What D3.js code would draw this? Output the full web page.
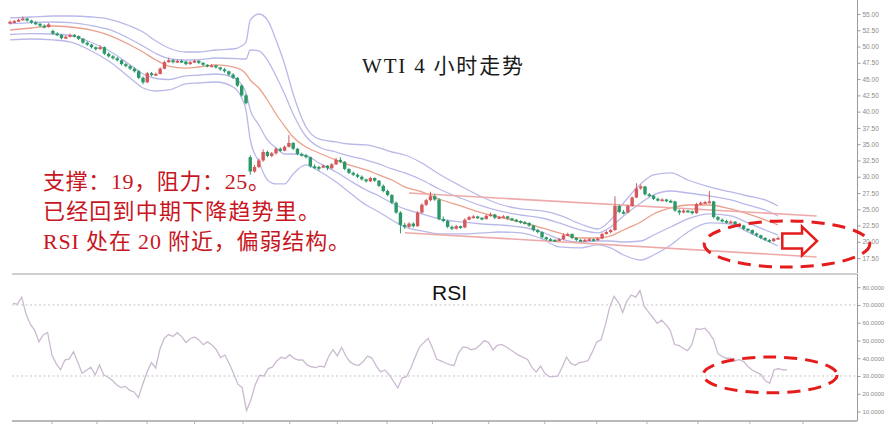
<!DOCTYPE html>
<html><head><meta charset="utf-8">
<script src="https://cdn.jsdelivr.net/npm/d3@7"></script>
<style>html,body{margin:0;padding:0;background:#fff;overflow:hidden;} svg{display:block;}</style>
</head><body>
<svg id="chart" width="893" height="428"></svg>
<script>
// ---------- DATA ----------
const openP = [53.6,53.8,53.9,54.1,54.3,54.0,53.7,53.5,53.2,53.0,
52.4,52.0,51.8,51.3,51.5,51.8,51.6,51.2,50.6,50.3,
49.9,49.6,49.9,48.9,48.5,48.2,47.9,47.3,47.0,46.6,
46.2,45.2,44.5,45.9,45.6,45.8,46.6,47.6,47.9,47.6,
47.8,47.7,47.3,47.6,47.8,47.5,47.2,47.0,47.1,46.8,
46.5,46.2,45.7,45.2,44.0,42.5,33.0,30.8,31.5,32.5,
33.8,33.2,33.6,34.3,34.0,34.6,35.2,34.3,33.5,33.3,
33.0,31.6,31.5,31.4,31.7,31.3,31.9,32.6,32.3,31.2,
30.6,30.3,30.0,29.6,29.3,29.8,29.4,28.6,27.8,27.2,
26.0,24.5,22.6,22.3,22.8,22.4,24.5,25.7,26.4,27.0,
26.5,23.5,23.2,22.3,22.0,22.4,22.2,23.4,23.8,23.9,
23.7,23.5,24.0,24.2,23.7,23.8,23.9,23.6,23.4,23.2,
23.0,22.9,22.5,21.8,21.5,20.7,20.4,20.3,20.2,20.4,
21.0,21.2,20.6,20.3,20.2,20.3,20.4,20.3,20.5,21.2,
21.5,21.8,25.5,24.6,24.5,25.5,26.8,28.2,28.5,27.3,
27.1,26.6,26.4,26.5,26.3,26.2,24.8,24.5,24.8,24.7,
24.4,25.8,26.0,26.1,26.2,23.8,23.4,23.2,23.0,23.1,
22.7,22.5,22.0,21.8,21.3,21.0,20.6,20.3,20.1,20.5];
const highP = [54.0,54.1,54.3,54.6,54.4,54.1,53.9,53.6,53.4,53.6,
52.6,52.2,51.9,51.7,52.0,51.9,51.7,51.3,50.8,50.4,
50.0,50.2,50.0,49.1,48.7,48.4,48.0,47.5,47.2,46.8,
46.4,45.4,46.1,46.1,46.0,46.8,47.8,48.3,48.1,48.0,
48.0,47.8,47.8,48.0,47.9,47.6,47.3,47.3,47.2,46.9,
46.7,46.3,45.9,45.3,44.2,42.7,33.3,31.8,32.8,34.2,
34.0,33.8,34.5,34.5,34.8,36.4,35.3,34.4,33.7,33.5,
33.1,31.9,31.7,31.9,31.8,32.1,32.9,33.0,32.4,31.3,
30.8,30.5,30.2,29.7,30.0,29.9,29.5,28.8,28.0,27.3,
26.2,24.7,22.9,23.0,23.0,24.7,25.9,26.6,27.7,27.3,
26.7,23.9,23.4,22.5,22.6,22.5,23.6,24.0,24.1,24.0,
23.8,24.2,24.5,24.3,24.0,24.1,24.0,23.7,23.5,23.3,
23.2,23.0,22.6,22.0,21.6,20.8,20.6,20.4,20.6,21.3,
21.4,21.3,20.7,20.4,20.5,20.6,20.5,20.7,21.4,21.7,
22.0,27.0,25.7,24.9,25.7,27.0,29.0,28.8,28.6,27.5,
27.2,26.8,26.7,26.6,26.5,26.3,25.0,25.0,24.9,24.8,
26.0,26.2,26.3,27.8,26.3,24.0,23.6,23.4,23.3,23.2,
22.8,22.6,22.1,21.9,21.4,21.1,20.7,20.4,20.6,20.8];
const lowP = [53.4,53.6,53.8,54.0,53.8,53.5,53.3,53.0,52.8,52.9,
51.8,51.6,51.1,51.2,51.4,51.4,51.0,50.4,50.1,49.7,
49.4,49.5,48.7,48.3,48.0,47.7,47.1,46.8,46.4,46.0,
45.0,44.2,44.4,45.4,45.5,45.7,46.5,47.5,47.4,47.5,
47.5,47.1,47.2,47.5,47.3,47.0,46.8,46.9,46.6,46.3,
46.0,45.5,45.0,43.8,42.3,41.1,30.3,30.6,31.3,32.3,
33.0,33.0,33.4,33.8,33.9,34.5,34.1,33.3,33.1,32.8,
31.4,31.2,30.9,31.3,31.0,31.2,31.8,32.1,31.0,30.4,
30.1,29.8,29.4,29.1,29.2,29.2,28.4,27.6,27.0,25.8,
24.3,21.3,22.0,22.1,22.2,22.3,24.3,25.5,26.2,26.3,
23.3,23.0,22.1,21.8,21.9,22.0,22.1,23.3,23.6,23.5,
23.3,23.4,23.9,23.5,23.6,23.7,23.4,23.2,23.0,22.8,
22.7,22.3,21.6,21.3,20.5,20.2,20.1,20.0,20.1,20.3,
20.9,20.4,20.1,20.0,20.1,20.2,20.1,20.2,20.4,21.1,
21.3,21.7,24.4,24.2,24.4,25.4,26.7,28.0,27.1,26.9,
26.4,26.2,26.3,26.1,26.0,24.6,24.1,24.4,24.5,24.2,
24.3,25.6,25.8,25.9,23.6,23.2,23.0,22.8,22.9,22.5,
22.3,21.8,21.6,21.1,20.8,20.4,20.1,19.9,20.0,20.4];
const closeP = [53.8,53.9,54.1,54.3,54.0,53.7,53.5,53.2,53.0,53.4,
52.0,51.8,51.3,51.5,51.8,51.6,51.2,50.6,50.3,49.9,
49.6,49.9,48.9,48.5,48.2,47.9,47.3,47.0,46.6,46.2,
45.2,44.5,45.9,45.6,45.8,46.6,47.6,47.9,47.6,47.8,
47.7,47.3,47.6,47.8,47.5,47.2,47.0,47.1,46.8,46.5,
46.2,45.7,45.2,44.0,42.5,41.3,30.8,31.5,32.5,33.8,
33.2,33.6,34.3,34.0,34.6,35.2,34.3,33.5,33.3,33.0,
31.6,31.5,31.4,31.7,31.3,31.9,32.6,32.3,31.2,30.6,
30.3,30.0,29.6,29.3,29.8,29.4,28.6,27.8,27.2,26.0,
24.5,22.6,22.3,22.8,22.4,24.5,25.7,26.4,27.0,26.5,
23.5,23.2,22.3,22.0,22.4,22.2,23.4,23.8,23.9,23.7,
23.5,24.0,24.2,23.7,23.8,23.9,23.6,23.4,23.2,23.0,
22.9,22.5,21.8,21.5,20.7,20.4,20.3,20.2,20.4,21.0,
21.2,20.6,20.3,20.2,20.3,20.4,20.3,20.5,21.2,21.5,
21.8,25.5,24.6,24.5,25.5,26.8,28.2,28.5,27.3,27.1,
26.6,26.4,26.5,26.3,26.2,24.8,24.5,24.8,24.7,24.4,
25.8,26.0,26.1,26.2,23.8,23.4,23.2,23.0,23.1,22.7,
22.5,22.0,21.8,21.3,21.0,20.6,20.3,20.1,20.5,20.6];

// Bollinger-type envelopes and moving average, read at sample candles
const bandIdx = [0,5,10,14,19,23,28,31,34,37,41,44,48,52,54,55,56,58,60,62,64,66,69,72,76,79,83,86,89,92,96,100,105,110,114,119,124,128,133,137,140,143,147,150,154,158,163,168,172,176,179];
const bandUpper2 = [54.39,54.54,54.69,54.69,54.54,54.23,53.16,52.23,50.85,49.78,49.16,49.16,49.47,49.62,50.08,50.70,54.08,55.00,54.08,51.01,47.32,42.71,37.64,35.80,35.34,35.03,34.88,34.42,33.80,33.34,32.11,30.42,28.58,26.89,25.81,25.05,24.74,24.12,22.74,21.97,23.36,25.97,28.89,30.27,30.58,29.50,28.43,27.66,27.04,26.43,25.51];
const bandUpper1 = [53.54,53.69,53.77,53.69,53.23,52.62,51.16,50.08,48.93,48.16,47.93,47.97,48.24,48.16,48.09,48.09,49.47,49.32,47.93,45.48,42.71,39.64,36.18,34.57,33.80,33.19,32.57,31.96,31.19,30.58,29.50,28.12,26.73,25.51,24.74,24.12,23.66,22.90,21.82,21.36,22.28,23.97,25.97,27.20,27.81,27.50,27.04,26.43,25.66,24.89,23.97];
const movingAvg = [52.54,52.85,53.16,53.00,52.54,51.77,50.24,49.16,47.93,47.01,46.70,46.86,47.17,46.86,46.40,45.78,44.86,43.63,41.79,39.64,37.79,36.11,34.57,33.65,32.57,31.81,31.04,30.27,29.50,28.43,27.66,26.58,25.51,24.43,23.82,23.05,22.13,21.36,20.59,20.59,20.90,21.82,23.05,24.28,25.20,25.66,25.66,25.05,24.28,23.36,22.59];
const bandLower1 = [51.85,52.00,51.93,51.70,50.62,49.39,47.17,45.78,45.09,44.94,45.48,45.59,45.78,45.25,44.09,42.87,40.25,37.95,35.65,34.42,33.49,33.49,33.26,32.11,30.73,29.50,27.96,27.04,25.97,25.05,24.28,23.51,23.05,22.74,22.59,22.28,21.51,20.44,19.97,20.13,20.13,19.97,20.13,21.05,22.28,23.51,24.28,23.97,22.90,21.82,21.05];
const bandLower2 = [51.01,51.16,51.01,50.70,49.32,47.78,45.17,43.63,43.17,43.33,44.25,44.40,44.55,43.79,42.10,40.25,35.65,32.27,29.50,28.89,28.89,30.42,31.81,30.88,29.19,27.66,25.66,24.59,23.36,22.28,21.67,21.21,21.21,21.36,21.51,21.36,20.44,19.21,19.06,19.52,19.06,17.98,17.21,17.98,19.52,21.51,22.90,22.74,21.51,20.28,19.36];

// Channel trend lines (candle index, price)
const trendUpperIdx = [93, 188];
const trendUpperVal = [27.50, 23.97];
const trendLowerIdx = [92, 188];
const trendLowerVal = [21.40, 17.67];

// RSI, one value per candle
const rsiValues = [70.9,70.4,74.4,65.0,59.2,55.9,49.3,53.1,54.5,41.8,
37.0,33.5,39.0,39.6,43.7,37.6,31.5,33.2,34.9,30.6,
36.2,30.5,29.3,27.4,24.9,23.5,24.1,21.9,21.0,17.8,
25.3,32.1,37.6,34.5,45.3,51.3,53.3,52.3,54.4,52.2,
48.9,51.0,52.0,50.3,47.6,49.2,47.5,44.8,40.4,41.8,
37.0,31.5,25.4,23.4,10.5,16.5,24.9,30.4,30.0,34.0,
35.1,38.5,40.5,39.8,42.0,39.9,39.0,39.0,36.2,35.2,
34.7,35.5,35.1,41.0,44.8,41.3,46.1,41.1,37.8,36.4,
36.0,38.1,41.2,40.1,35.7,32.3,33.4,30.6,26.9,23.3,
29.0,29.6,34.5,40.5,46.3,48.8,51.2,45.9,39.4,38.5,
37.3,36.4,35.9,42.8,46.2,46.1,44.8,45.4,47.5,49.9,
48.8,44.6,47.3,47.8,46.5,44.8,43.2,41.6,40.5,39.3,
34.8,32.2,35.6,31.5,29.6,29.6,30.0,34.9,40.7,37.1,
36.0,37.5,37.9,38.7,43.7,49.2,50.4,58.8,68.8,74.8,
71.5,65.8,72.4,75.6,74.4,78.1,69.2,66.0,62.8,59.6,
61.4,58.9,55.7,47.7,47.2,45.6,44.3,47.6,56.6,56.3,
56.9,54.3,50.5,42.7,40.9,40.0,40.0,38.6,39.2,38.1,
35.2,33.2,32.0,30.8,27.3,25.9,33.4,34.2,33.5,33.4];
const rsiLevels = [70, 30];

const priceTicks = [55,52.5,50,47.5,45,42.5,40,37.5,35,32.5,30,27.5,25,22.5,20,17.5];
const rsiTicks = [80,70,60,50,40,30,20,10];
const timeTickIdx = [9,19.4,31,42,53.2,64,75,86.5,97,110,123,135,146.6,158.4,170.4,182.7];

const titleText = "WTI 4 小时走势";
const noteLines = ["支撑：19，阻力：25。", "已经回到中期下降趋势里。", "RSI 处在 20 附近，偏弱结构。"];
const rsiTitle = "RSI";

// annotation anchors in data units
const priceEllipse = {i: 181.1, p: 19.67, di: 19.3, dp: 3.55};
const arrowShape = {i0: 180.0, iHead: 184.6, iTip: 188.1, p: 20.13, shaft: 1.15, head: 2.2};
const rsiEllipse = {i: 175.1, v: 30.6, di: 15.5, dv: 10.1};

// ---------- DRAWING ----------
const svg = d3.select("#chart");
const n = closeP.length;
const x = d3.scaleLinear().domain([0, n - 1]).range([10, 778]);
const y = d3.scaleLinear().domain([55, 17.5]).range([14, 258.1]);
const xr = d3.scaleLinear().domain([0, n - 1]).range([13, 787]);
const yr = d3.scaleLinear().domain([80, 10]).range([287.2, 411.5]);

const RED = "#d4585c", GREEN = "#2b9868";

svg.append("defs").append("clipPath").attr("id", "mainClip")
  .append("rect").attr("x", 0).attr("y", 0).attr("width", 857).attr("height", 272);

const main = svg.append("g").attr("clip-path", "url(#mainClip)");

function bandLine(vals) {
  return d3.line().x((d, k) => x(bandIdx[k])).y(d => y(d)).curve(d3.curveMonotoneX)(vals.slice(0, bandIdx.length));
}
[bandUpper2, bandUpper1, bandLower1, bandLower2].forEach(arr => {
  main.append("path").attr("d", bandLine(arr)).attr("fill", "none")
    .attr("stroke", "#b9b9e9").attr("stroke-width", 1.3);
});
main.append("path").attr("d", bandLine(movingAvg)).attr("fill", "none")
  .attr("stroke", "#eba08c").attr("stroke-width", 1.3);

main.append("line").attr("x1", x(trendUpperIdx[0])).attr("y1", y(trendUpperVal[0]))
  .attr("x2", x(trendUpperIdx[1])).attr("y2", y(trendUpperVal[1]))
  .attr("stroke", "#eeaaaa").attr("stroke-width", 1.6);
main.append("line").attr("x1", x(trendLowerIdx[0])).attr("y1", y(trendLowerVal[0]))
  .attr("x2", x(trendLowerIdx[1])).attr("y2", y(trendLowerVal[1]))
  .attr("stroke", "#eeaaaa").attr("stroke-width", 1.6);

const candles = main.append("g");
d3.range(n).forEach(i => {
  const o = openP[i], c = closeP[i], h = highP[i], l = lowP[i];
  const col = c >= o ? RED : GREEN;
  candles.append("line").attr("x1", x(i)).attr("x2", x(i))
    .attr("y1", y(h)).attr("y2", y(l)).attr("stroke", col).attr("stroke-width", 1);
  const top = Math.min(y(o), y(c));
  const hgt = Math.max(1.8, Math.abs(y(o) - y(c)));
  candles.append("rect").attr("x", x(i) - 1.7).attr("y", top)
    .attr("width", 3.4).attr("height", hgt).attr("fill", col);
});

svg.append("line").attr("x1", 857.5).attr("x2", 857.5).attr("y1", 0).attr("y2", 273)
  .attr("stroke", "#9a9a9a").attr("stroke-width", 1);
const ax = svg.append("g").attr("transform", "translate(857.5,0)")
  .call(d3.axisRight(y).tickValues(priceTicks).tickFormat(d3.format(".2f")).tickSize(3).tickPadding(2));
ax.select(".domain").remove();
ax.selectAll("line").attr("stroke", "#9a9a9a");
ax.selectAll("text").attr("fill", "#8a8a8a").style("font-size", "6.5px").style("font-family", "'Liberation Sans', Arial, sans-serif");

svg.append("line").attr("x1", 12).attr("x2", 857).attr("y1", 274).attr("y2", 274)
  .attr("stroke", "#cfcfcf").attr("stroke-width", 2);
svg.append("line").attr("x1", 12).attr("x2", 857).attr("y1", 421).attr("y2", 421)
  .attr("stroke", "#b9b9b9").attr("stroke-width", 2);
svg.append("g").selectAll("line").data(timeTickIdx).join("line")
  .attr("x1", d => xr(d)).attr("x2", d => xr(d)).attr("y1", 421).attr("y2", 424)
  .attr("stroke", "#b0b0b0").attr("stroke-width", 1);

svg.append("g").selectAll("line").data(rsiLevels).join("line")
  .attr("x1", 12).attr("x2", 857).attr("y1", d => yr(d)).attr("y2", d => yr(d))
  .attr("stroke", "#c4c4c4").attr("stroke-width", 1).attr("stroke-dasharray", "2,2.5");

svg.append("path").datum(rsiValues)
  .attr("d", d3.line().x((d, i) => xr(i)).y(d => yr(d)))
  .attr("fill", "none").attr("stroke", "#cbbad0").attr("stroke-width", 1.3);

svg.append("line").attr("x1", 857.5).attr("x2", 857.5).attr("y1", 274).attr("y2", 421)
  .attr("stroke", "#9a9a9a").attr("stroke-width", 1);
const axr = svg.append("g").attr("transform", "translate(857.5,0)")
  .call(d3.axisRight(yr).tickValues(rsiTicks).tickFormat(d => d.toFixed(4)).tickSize(3).tickPadding(2));
axr.select(".domain").remove();
axr.selectAll("line").attr("stroke", "#9a9a9a");
axr.selectAll("text").attr("fill", "#8a8a8a").style("font-size", "6px").style("font-family", "'Liberation Sans', Arial, sans-serif");

svg.append("text").attr("x", 362).attr("y", 73).text(titleText)
  .attr("textLength", 161).attr("lengthAdjust", "spacing")
  .style("font-family", "'Liberation Serif', 'Noto Sans CJK SC', serif").style("font-size", "21px").attr("fill", "#1a1a1a");

svg.append("text").attr("x", 432).attr("y", 300).text(rsiTitle)
  .style("font-family", "'Liberation Sans', Arial, sans-serif").style("font-size", "21px").attr("fill", "#111");

const noteY = [189, 219, 249];
const noteW = [227, 277, 307];
noteLines.forEach((t, k) => {
  svg.append("text").attr("x", 43).attr("y", noteY[k]).text(t)
    .attr("textLength", noteW[k]).attr("lengthAdjust", "spacing")
    .style("font-family", "'Liberation Serif', 'Noto Sans CJK SC', serif").style("font-size", "22px")
    .attr("fill", "#c8161e");
});

const RED_ANN = "#e41c1c";
svg.append("ellipse")
  .attr("cx", x(priceEllipse.i)).attr("cy", y(priceEllipse.p))
  .attr("rx", x(priceEllipse.i + priceEllipse.di) - x(priceEllipse.i))
  .attr("ry", y(priceEllipse.p - priceEllipse.dp) - y(priceEllipse.p))
  .attr("fill", "none").attr("stroke", RED_ANN).attr("stroke-width", 3).attr("stroke-dasharray", "13,8");

const a = arrowShape;
const arrowPts = [
  [x(a.i0), y(a.p + a.shaft)], [x(a.iHead), y(a.p + a.shaft)], [x(a.iHead), y(a.p + a.head)],
  [x(a.iTip), y(a.p)], [x(a.iHead), y(a.p - a.head)], [x(a.iHead), y(a.p - a.shaft)], [x(a.i0), y(a.p - a.shaft)]
];
svg.append("polygon").attr("points", arrowPts.map(p => p.join(",")).join(" "))
  .attr("fill", "#fff").attr("stroke", RED_ANN).attr("stroke-width", 2.5).attr("stroke-linejoin", "miter");

svg.append("ellipse")
  .attr("cx", xr(rsiEllipse.i)).attr("cy", yr(rsiEllipse.v))
  .attr("rx", xr(rsiEllipse.i + rsiEllipse.di) - xr(rsiEllipse.i))
  .attr("ry", yr(rsiEllipse.v - rsiEllipse.dv) - yr(rsiEllipse.v))
  .attr("fill", "none").attr("stroke", RED_ANN).attr("stroke-width", 3).attr("stroke-dasharray", "13,8");
</script>
</body></html>
